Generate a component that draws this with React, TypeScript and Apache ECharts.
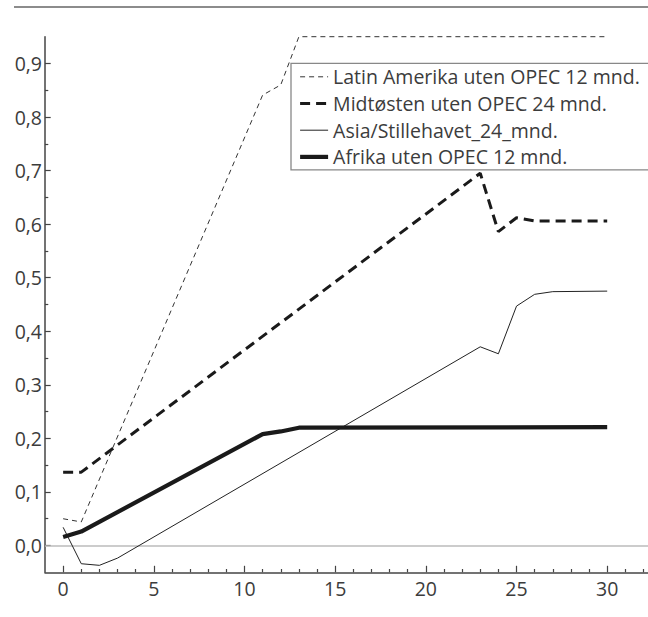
import React, { useEffect, useRef } from 'react';
import * as echarts from 'echarts';

const seriesNames = [
  'Latin Amerika uten OPEC 12 mnd.',
  'Midtøsten uten OPEC 24 mnd.',
  'Asia/Stillehavet_24_mnd.',
  'Afrika uten OPEC 12 mnd.',
];

const latinAmerika: [number, number][] = [
  [0, 0.05], [1, 0.044], [11, 0.841], [12, 0.86], [13, 0.95], [30, 0.95],
];
const midtosten: [number, number][] = [
  [0, 0.137], [1, 0.137], [23, 0.695], [24, 0.586], [25, 0.612], [26, 0.606], [30, 0.606],
];
const asia: [number, number][] = [
  [0, 0.034], [1, -0.034], [2, -0.037], [3, -0.0235], [23, 0.371], [24, 0.358],
  [25, 0.447], [26, 0.469], [27, 0.474], [30, 0.475],
];
const afrika: [number, number][] = [
  [0, 0.016], [1, 0.026], [11, 0.208], [12, 0.213], [13, 0.22], [30, 0.221],
];

const xMajorTicks = [0, 5, 10, 15, 20, 25, 30];
const xMinorTicks = [1, 2, 3, 4, 6, 7, 8, 9, 11, 12, 13, 14, 16, 17, 18, 19, 21, 22, 23, 24, 26, 27, 28, 29, 31, 32];
const yMajorTicks = [0, 0.1, 0.2, 0.3, 0.4, 0.5, 0.6, 0.7, 0.8, 0.9];
const yMinorTicks = [0.05, 0.15, 0.25, 0.35, 0.45, 0.55, 0.65, 0.75, 0.85];

const X_MIN = -1;
const X_MAX = 32.25;
const Y_MIN = -0.05;
const Y_MAX = 0.95;

const FONT = '"Open Sans", "Noto Sans", sans-serif';
const WEIGHT = 400;
const TEXT = '#3c3c3c';
const AXIS = '#444';

export default function App() {
  const ref = useRef<HTMLDivElement>(null);

  useEffect(() => {
    if (!ref.current) return;
    const chart = echarts.init(ref.current, undefined, { renderer: 'svg' });

    const lineBase = { type: 'line' as const, symbol: 'none', showSymbol: false, xAxisIndex: 0, yAxisIndex: 0 };

    chart.setOption({
      animation: false,
      backgroundColor: '#fff',
      textStyle: { fontFamily: FONT, color: TEXT, fontWeight: WEIGHT },
      grid: { left: 45, right: 0, top: 36.7, bottom: 44.7, containLabel: false },
      legend: {
        left: 291,
        top: 63.3,
        orient: 'vertical',
        backgroundColor: '#fff',
        borderColor: '#888',
        borderWidth: 1.3,
        borderRadius: 0,
        padding: [2.5, 40, 2, 7],
        itemWidth: 28,
        itemHeight: 14,
        itemGap: 4.7,
        itemStyle: { color: 'transparent', borderWidth: 0, opacity: 0 },
        lineStyle: { width: 'inherit' },
        textStyle: { fontFamily: FONT, fontSize: 19.5, fontWeight: WEIGHT, color: TEXT, lineHeight: 22 },
        data: seriesNames,
      },
      xAxis: [
        {
          type: 'value',
          min: X_MIN,
          max: X_MAX,
          position: 'bottom',
          axisLine: { show: true, onZero: false, lineStyle: { color: AXIS, width: 1.5 } },
          axisTick: { show: true, inside: true, length: 6.5, customValues: xMajorTicks, lineStyle: { color: AXIS, width: 1.2 } },
          axisLabel: { show: true, customValues: xMajorTicks, margin: 6, fontSize: 19.5, fontWeight: WEIGHT, color: TEXT, fontFamily: FONT },
          splitLine: { show: false },
        },
        {
          type: 'value',
          min: X_MIN,
          max: X_MAX,
          position: 'bottom',
          axisLine: { show: false, onZero: false },
          axisTick: { show: true, inside: true, length: 3.3, customValues: xMinorTicks, lineStyle: { color: AXIS, width: 1.2 } },
          axisLabel: { show: false, customValues: xMinorTicks },
          splitLine: { show: false },
        },
      ],
      yAxis: [
        {
          type: 'value',
          min: Y_MIN,
          max: Y_MAX,
          position: 'left',
          axisLine: { show: true, onZero: false, lineStyle: { color: AXIS, width: 1.5 } },
          axisTick: { show: true, inside: true, length: 5.7, customValues: yMajorTicks, lineStyle: { color: AXIS, width: 1.2 } },
          axisLabel: {
            show: true,
            customValues: yMajorTicks,
            margin: 3,
            fontSize: 19.5,
            fontWeight: WEIGHT,
            color: TEXT,
            fontFamily: FONT,
            formatter: (v: number) => v.toFixed(1).replace('.', ','),
          },
          splitLine: { show: false },
        },
        {
          type: 'value',
          min: Y_MIN,
          max: Y_MAX,
          position: 'left',
          axisLine: { show: false, onZero: false },
          axisTick: { show: true, inside: true, length: 3.3, customValues: yMinorTicks, lineStyle: { color: AXIS, width: 1.2 } },
          axisLabel: { show: false, customValues: yMinorTicks },
          splitLine: { show: false },
        },
      ],
      graphic: [
        {
          type: 'line',
          shape: { x1: 14, y1: 7, x2: 648, y2: 7 },
          style: { stroke: '#666', lineWidth: 1.6 },
        },
      ],
      series: [
        {
          ...lineBase,
          name: seriesNames[2],
          data: asia,
          lineStyle: { color: '#222', width: 1, type: 'solid' },
          itemStyle: { color: '#222' },
          z: 3,
          markLine: {
            silent: true,
            symbol: 'none',
            label: { show: false },
            lineStyle: { color: '#bbb', width: 1.6, type: 'solid' },
            data: [{ yAxis: 0 }],
            z: 1,
          },
        },
        {
          ...lineBase,
          name: seriesNames[0],
          data: latinAmerika,
          clip: false,
          lineStyle: { color: '#333', width: 1, type: [5, 4] },
          itemStyle: { color: '#333' },
          z: 3,
        },
        {
          ...lineBase,
          name: seriesNames[1],
          data: midtosten,
          lineStyle: { color: '#1a1a1a', width: 3, type: [10, 6] },
          itemStyle: { color: '#1a1a1a' },
          z: 3,
        },
        {
          ...lineBase,
          name: seriesNames[3],
          data: afrika,
          lineStyle: { color: '#1a1a1a', width: 4.2, type: 'solid' },
          itemStyle: { color: '#1a1a1a' },
          z: 3,
        },
      ],
    });

    return () => chart.dispose();
  }, []);

  return <div ref={ref} style={{ width: 648, height: 617, position: 'absolute', left: 0, top: 0 }} />;
}
